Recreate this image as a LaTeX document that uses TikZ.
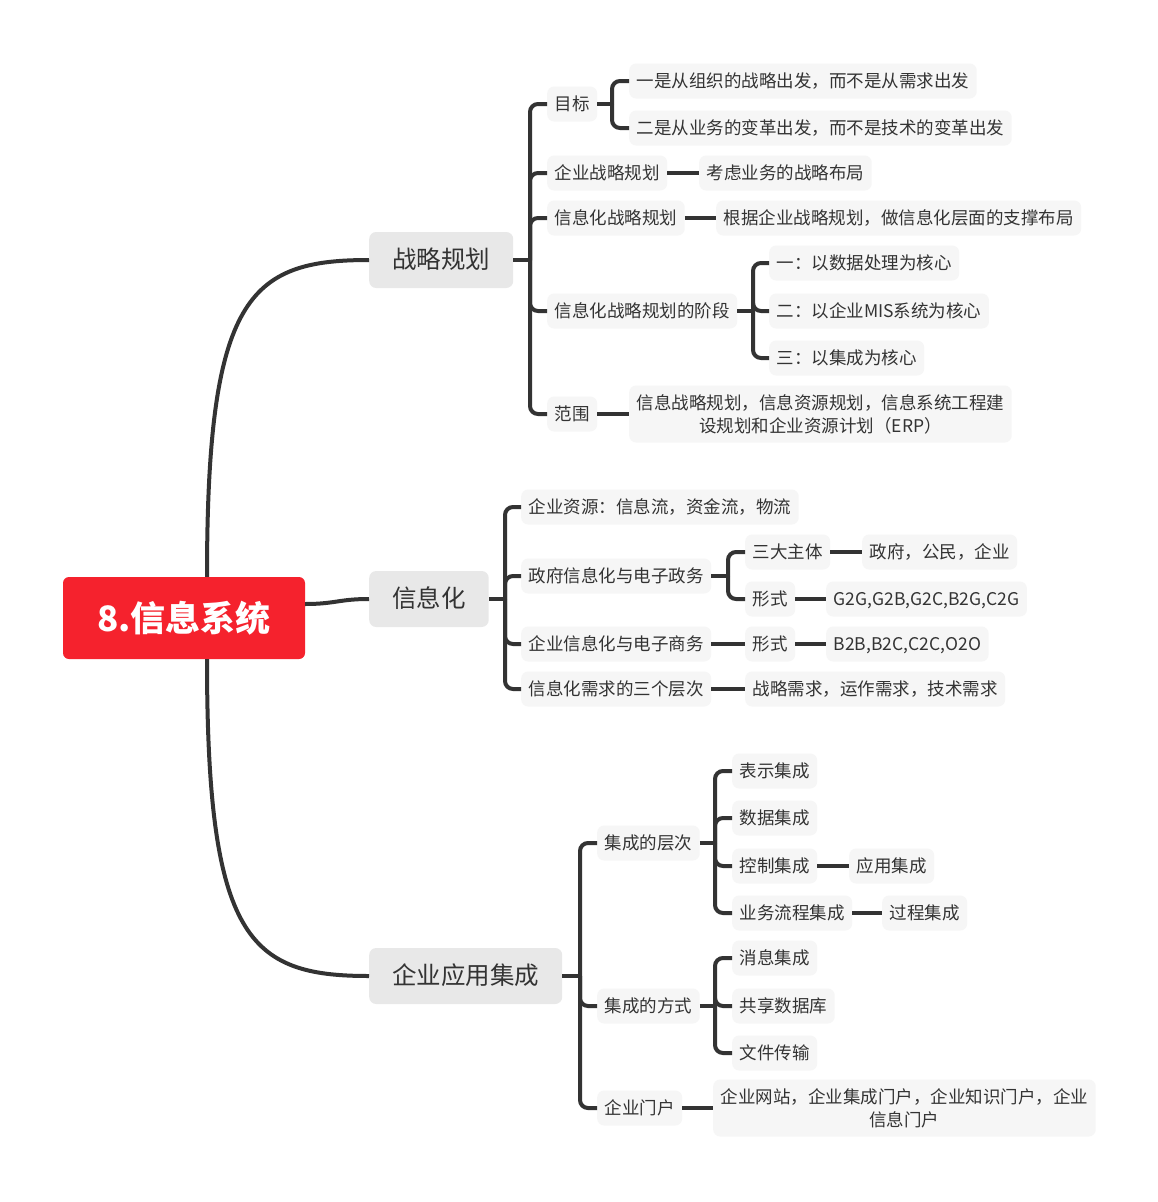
\documentclass[tikz,border=0pt]{standalone}
\usepackage{fontspec}
\setmainfont{Noto Sans CJK SC}
\usetikzlibrary{calc}
\definecolor{rootred}{RGB}{245,34,45}
\definecolor{mainfill}{RGB}{232,232,232}
\definecolor{subfill}{RGB}{246,246,246}
\definecolor{ink}{RGB}{51,51,51}
\definecolor{linec}{RGB}{51,51,51}
\begin{document}
\begin{tikzpicture}[x=1pt,y=-1pt,
  conn/.style={draw=linec, line width=4pt},
  brk/.style={conn, rounded corners=8pt},
  rootbox/.style={fill=rootred, rounded corners=6pt, minimum width=242pt, minimum height=82pt, text=white, inner sep=0pt,
    font=\fontsize{35}{40}\selectfont\bfseries},
  mainbox/.style={fill=mainfill, rounded corners=7pt, anchor=west, text=ink, inner xsep=23pt, inner ysep=0pt,
    minimum height=56pt, text height=21pt, text depth=3.5pt, font=\fontsize{24.5}{28}\selectfont},
  subbox/.style={fill=subfill, rounded corners=7pt, anchor=west, text=ink, inner xsep=7.5pt, inner ysep=0pt,
    minimum height=35pt, text height=14.5pt, text depth=2.5pt, font=\fontsize{17.5}{21}\selectfont},
  twobox/.style={fill=subfill, rounded corners=7pt, anchor=west, text=ink, inner xsep=7.5pt, inner ysep=6pt,
    minimum height=57pt, align=center, font=\fontsize{17.5}{23}\selectfont},
]
\fill[white] (0,0) rectangle (1158,1202);
\useasboundingbox (0,0) rectangle (1158,1202);

% root
\node[rootbox] (root) at (184,618) {8.信息系统};

% level 1
\node[mainbox] (s) at (369,260) {战略规划};
\node[mainbox] (x) at (369,599) {信息化};
\node[mainbox] (e) at (369,976) {企业应用集成};

\draw[conn] ([xshift=23pt]root.north) .. controls +(0,-280) and +(-120,0) .. (s.west);
\draw[conn] ([yshift=14pt]root.east) .. controls +(30,0) and +(-30,0) .. (x.west);
\draw[conn] ([xshift=23pt]root.south) .. controls +(0,280) and +(-120,0) .. (e.west);

% ===== 战略规划
\node[subbox] (s1) at (547,104) {目标};
\node[subbox] (s11) at (629,81) {一是从组织的战略出发，而不是从需求出发};
\node[subbox] (s12) at (629,128) {二是从业务的变革出发，而不是技术的变革出发};
\node[subbox] (s2) at (547,173) {企业战略规划};
\node[subbox] (s21) at (699,173) {考虑业务的战略布局};
\node[subbox] (s3) at (547,218) {信息化战略规划};
\node[subbox] (s31) at (716,218) {根据企业战略规划，做信息化层面的支撑布局};
\node[subbox] (s4) at (547,311) {信息化战略规划的阶段};
\node[subbox] (s41) at (769,263) {一：以数据处理为核心};
\node[subbox] (s42) at (769,311) {二：以企业MIS系统为核心};
\node[subbox] (s43) at (769,358) {三：以集成为核心};
\node[subbox] (s5) at (547,414) {范围};
\node[twobox] (s51) at (629,414) {信息战略规划，信息资源规划，信息系统工程建\\设规划和企业资源计划（ERP）};

\coordinate (sb) at (530,260);
\draw[conn] (s.east) -- (sb);
\foreach \c in {s1,s2,s3,s4,s5} \draw[brk] (sb) |- (\c.west);
\coordinate (s1b) at (612,104);
\draw[conn] (s1.east) -- (s1b);
\foreach \c in {s11,s12} \draw[brk] (s1b) |- (\c.west);
\draw[conn] (s2) -- (s21);
\draw[conn] (s3) -- (s31);
\coordinate (s4b) at (753,311);
\draw[conn] (s4.east) -- (s4b);
\foreach \c in {s41,s42,s43} \draw[brk] (s4b) |- (\c.west);
\draw[conn] (s5) -- (s51);

% ===== 信息化
\node[subbox] (x1) at (521,507) {企业资源：信息流，资金流，物流};
\node[subbox] (x2) at (521,576) {政府信息化与电子政务};
\node[subbox] (x21) at (745,552) {三大主体};
\node[subbox] (x211) at (862,552) {政府，公民，企业};
\node[subbox] (x22) at (745,599) {形式};
\node[subbox] (x221) at (826,599) {G2G,G2B,G2C,B2G,C2G};
\node[subbox] (x3) at (521,644) {企业信息化与电子商务};
\node[subbox] (x31) at (745,644) {形式};
\node[subbox] (x311) at (826,644) {B2B,B2C,C2C,O2O};
\node[subbox] (x4) at (521,689) {信息化需求的三个层次};
\node[subbox] (x41) at (745,689) {战略需求，运作需求，技术需求};

\coordinate (xb) at (505,599);
\draw[conn] (x.east) -- (xb);
\foreach \c in {x1,x2,x3,x4} \draw[brk] (xb) |- (\c.west);
\coordinate (x2b) at (728,576);
\draw[conn] (x2.east) -- (x2b);
\foreach \c in {x21,x22} \draw[brk] (x2b) |- (\c.west);
\draw[conn] (x21) -- (x211);
\draw[conn] (x22) -- (x221);
\draw[conn] (x3) -- (x31);
\draw[conn] (x31) -- (x311);
\draw[conn] (x4) -- (x41);

% ===== 企业应用集成
\node[subbox] (e1) at (597,843) {集成的层次};
\node[subbox] (e11) at (732,771) {表示集成};
\node[subbox] (e12) at (732,818) {数据集成};
\node[subbox] (e13) at (732,866) {控制集成};
\node[subbox] (e131) at (849,866) {应用集成};
\node[subbox] (e14) at (732,913) {业务流程集成};
\node[subbox] (e141) at (882,913) {过程集成};
\node[subbox] (e2) at (597,1006) {集成的方式};
\node[subbox] (e21) at (732,958) {消息集成};
\node[subbox] (e22) at (732,1006) {共享数据库};
\node[subbox] (e23) at (732,1053) {文件传输};
\node[subbox] (e3) at (597,1108) {企业门户};
\node[twobox] (e31) at (713,1108) {企业网站，企业集成门户，企业知识门户，企业\\信息门户};

\coordinate (eb) at (580,976);
\draw[conn] (e.east) -- (eb);
\foreach \c in {e1,e2,e3} \draw[brk] (eb) |- (\c.west);
\coordinate (e1b) at (715,843);
\draw[conn] (e1.east) -- (e1b);
\foreach \c in {e11,e12,e13,e14} \draw[brk] (e1b) |- (\c.west);
\draw[conn] (e13) -- (e131);
\draw[conn] (e14) -- (e141);
\coordinate (e2b) at (715,1006);
\draw[conn] (e2.east) -- (e2b);
\foreach \c in {e21,e22,e23} \draw[brk] (e2b) |- (\c.west);
\draw[conn] (e3) -- (e31);
\end{tikzpicture}
\end{document}
